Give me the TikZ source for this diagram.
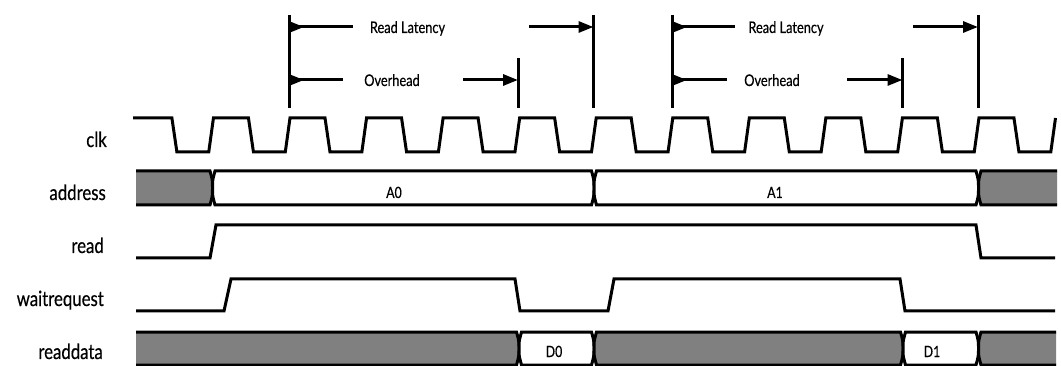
\documentclass[tikz,border=0pt]{standalone}
\usepackage{fontspec}
\setmainfont{Lato}[FakeStretch=0.8,FakeBold=0.4]
\usetikzlibrary{arrows.meta}
\definecolor{busgray}{RGB}{128,128,128}
\newcommand{\BusW}{2.5}
\newcommand{\BusC}{9}
% internal segment: transitions on both sides
\newcommand{\BusMid}[5]{%
  \filldraw[bus,fill=#5] ({#1+\BusW},#3) -- ({#2-\BusW},#3)
    .. controls (#2,{#3+\BusC}) .. (#2,{(#3+#4)/2})
    .. controls (#2,{#4-\BusC}) .. ({#2-\BusW},#4) -- ({#1+\BusW},#4)
    .. controls (#1,{#4-\BusC}) .. (#1,{(#3+#4)/2})
    .. controls (#1,{#3+\BusC}) .. cycle;}
% first segment: flat left end
\newcommand{\BusLeft}[5]{%
  \fill[#5] (#1,#3) -- ({#2-\BusW},#3)
    .. controls (#2,{#3+\BusC}) .. (#2,{(#3+#4)/2})
    .. controls (#2,{#4-\BusC}) .. ({#2-\BusW},#4) -- (#1,#4) -- cycle;
  \draw[bus] (#1,#3) -- ({#2-\BusW},#3)
    .. controls (#2,{#3+\BusC}) .. (#2,{(#3+#4)/2})
    .. controls (#2,{#4-\BusC}) .. ({#2-\BusW},#4) -- (#1,#4);}
% last segment: flat right end
\newcommand{\BusRight}[5]{%
  \fill[#5] (#2,#3) -- ({#1+\BusW},#3)
    .. controls (#1,{#3+\BusC}) .. (#1,{(#3+#4)/2})
    .. controls (#1,{#4-\BusC}) .. ({#1+\BusW},#4) -- (#2,#4) -- cycle;
  \draw[bus] (#2,#3) -- ({#1+\BusW},#3)
    .. controls (#1,{#3+\BusC}) .. (#1,{(#3+#4)/2})
    .. controls (#1,{#4-\BusC}) .. ({#1+\BusW},#4) -- (#2,#4);}
\tikzset{
  sig/.style={line width=3pt, line join=miter},
  bus/.style={line width=3pt, draw=black},
  marker/.style={line width=3pt},
  ann/.style={line width=3pt},
  arrstart/.style={ann, {Triangle[length=15pt,width=11pt,reversed]}-},
  arrend/.style={ann, -{Triangle[length=15pt,width=11pt]}},
  lbl/.style={font=\fontsize{21}{24}\selectfont, inner sep=0pt, anchor=base east},
  annlbl/.style={font=\fontsize{16}{19}\selectfont, inner sep=0pt, anchor=base},
  buslbl/.style={font=\fontsize{15.5}{18}\selectfont, inner sep=0pt, anchor=base},
}
\begin{document}
\begin{tikzpicture}[x=1pt,y=-1pt]
\useasboundingbox (0,0) rectangle (1061,366);

% ---- signal names ----
\node[lbl] (nclk)  at (107,147) {clk};
\node[lbl] (naddr) at (106,200) {address};
\node[lbl] (nread) at (104,253) {read};
\node[lbl] (nwait) at (104,306) {waitrequest};
\node[lbl] (ndata) at (103,359) {readdata};

% ---- clock ----
\draw[sig] (133,118) foreach \k in {-2,...,9} {
  -- ({290+76.55*\k+35},118) -- ({290+76.55*\k+40},152)
  -- ({290+76.55*(\k+1)-4.7},152) -- ({290+76.55*(\k+1)},118) };

% ---- address bus ----
\BusLeft{136}{212.5}{171}{205}{busgray}
\BusMid{212.5}{594}{171}{205}{white}
\BusMid{594}{978.5}{171}{205}{white}
\BusRight{978.5}{1057}{171}{205}{busgray}
\node[buslbl] (a0) at (394,198) {A0};
\node[buslbl] (a1) at (775,198) {A1};

% ---- read ----
\draw[sig] (136,258) -- (210,258) -- (216,225) -- (976,225) -- (981,258) -- (1055,258);

% ---- waitrequest ----
\draw[sig] (136,311) -- (224,311) -- (231,279) -- (515,279) -- (520,311)
  -- (608,311) -- (614,279) -- (900,279) -- (905,311) -- (1055,311);

% ---- readdata bus ----
\BusLeft{136}{519}{332}{365}{busgray}
\BusMid{519}{594}{332}{365}{white}
\BusMid{594}{903}{332}{365}{busgray}
\BusMid{903}{978.5}{332}{365}{white}
\BusRight{978.5}{1056}{332}{365}{busgray}
\node[buslbl] (d0) at (554,357) {D0};
\node[buslbl] (d1) at (932,357) {D1};

% ---- timing markers ----
\coordinate (s1t) at (289,15);   \coordinate (s1b) at (289,108);
\coordinate (o1t) at (518,58);   \coordinate (o1b) at (518,108);
\coordinate (e1t) at (593.5,15); \coordinate (e1b) at (593.5,108);
\coordinate (s2t) at (672,15);   \coordinate (s2b) at (672,108);
\coordinate (o2t) at (902.5,58); \coordinate (o2b) at (902.5,108);
\coordinate (e2t) at (978,15);   \coordinate (e2b) at (978,108);
\foreach \m in {s1,o1,e1,s2,o2,e2} \draw[marker] (\m t) -- (\m b);

% group 1
\coordinate (rl1a) at (289,27);   \coordinate (rl1b) at (353,27);
\coordinate (rl1c) at (529,27);   \coordinate (rl1d) at (593.5,27);
\node[annlbl] (rl1) at (407.5,33) {Read Latency};
\draw[arrstart] (rl1a) -- (rl1b);
\draw[arrend] (rl1c) -- (rl1d);
\coordinate (ov1a) at (289,80);   \coordinate (ov1b) at (343,80);
\coordinate (ov1c) at (463,80);   \coordinate (ov1d) at (518,80);
\node[annlbl] (ov1) at (392,86) {Overhead};
\draw[arrstart] (ov1a) -- (ov1b);
\draw[arrend] (ov1c) -- (ov1d);

% group 2
\coordinate (rl2a) at (672,27);   \coordinate (rl2b) at (735,27);
\coordinate (rl2c) at (913,27);   \coordinate (rl2d) at (978,27);
\node[annlbl] (rl2) at (786,33) {Read Latency};
\draw[arrstart] (rl2a) -- (rl2b);
\draw[arrend] (rl2c) -- (rl2d);
\coordinate (ov2a) at (672,80);   \coordinate (ov2b) at (727,80);
\coordinate (ov2c) at (847,80);   \coordinate (ov2d) at (902.5,80);
\node[annlbl] (ov2) at (772,86) {Overhead};
\draw[arrstart] (ov2a) -- (ov2b);
\draw[arrend] (ov2c) -- (ov2d);
\end{tikzpicture}
\end{document}
